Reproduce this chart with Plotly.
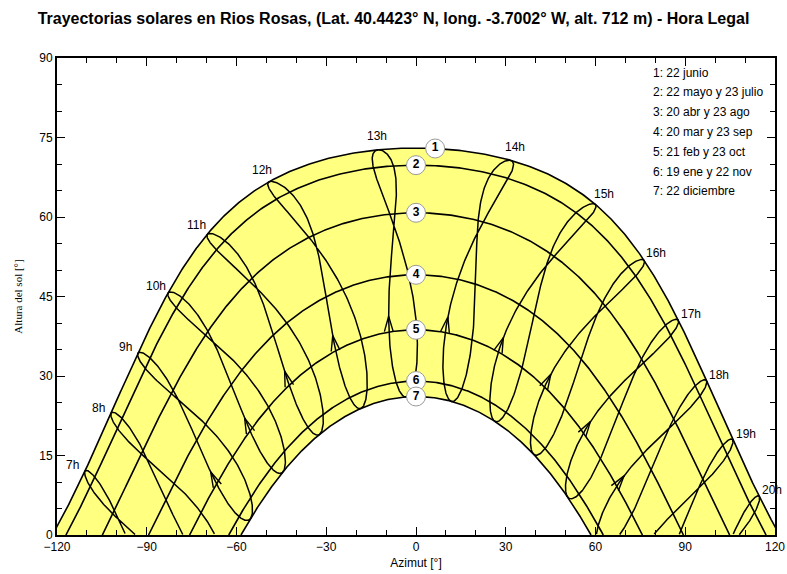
import numpy as np
import plotly.graph_objects as go

# ---------------- data ----------------
TITLE = "Trayectorias solares en Rios Rosas, (Lat. 40.4423° N, long. -3.7002° W, alt. 712 m) - Hora Legal"
latitude = 40.4423          # deg N
longitude = -3.7002         # deg (W negative)
utc_offset = 1              # legal time offset used for the hour curves (h)

path_ids = ["1", "2", "3", "4", "5", "6", "7"]
path_days = [173, 142, 110, 79, 52, 19, 356]      # day of year of each sun path
path_legend = ["1: 22 junio", "2: 22 mayo y 23 julio", "3: 20 abr y 23 ago",
               "4: 20 mar y 23 sep", "5: 21 feb y 23 oct", "6: 19 ene y 22 nov",
               "7: 22 diciembre"]
label1_azimuth = 6.4        # circle "1" sits a little to the right of south

hour_values = [7, 8, 9, 10, 11, 12, 13, 14, 15, 16, 17, 18, 19, 20]
hour_labels = [f"{h}h" for h in hour_values]
arrow_day = 60              # day where the direction arrow is drawn on each hour curve
label_day = 173             # hour labels at the 22 June point

x_ticks = [-120, -90, -60, -30, 0, 30, 60, 90, 120]
y_ticks = [0, 15, 30, 45, 60, 75, 90]

# ---------------- layout geometry (pixels) ----------------
W, H = 787, 574
L, R, T, B = 57, 775, 58, 535
XR, YR = (-120, 120), (0, 90)


def px(x):
    return L + (np.asarray(x) - XR[0]) / (XR[1] - XR[0]) * (R - L)


def py(y):
    return B - (np.asarray(y) - YR[0]) / (YR[1] - YR[0]) * (B - T)


def dx_data(dpx):
    return dpx * (XR[1] - XR[0]) / (R - L)


def dy_data(dpy):
    return -dpy * (YR[1] - YR[0]) / (B - T)


# ---------------- solar geometry ----------------
phi = np.radians(latitude)


def day_terms(day, clock_hour):
    g = 2 * np.pi / 365.0 * (np.asarray(day) - 1 + (clock_hour - 12) / 24.0)
    eot = 229.18 * (0.000075 + 0.001868 * np.cos(g) - 0.032077 * np.sin(g)
                    - 0.014615 * np.cos(2 * g) - 0.040849 * np.sin(2 * g))
    decl = (0.006918 - 0.399912 * np.cos(g) + 0.070257 * np.sin(g)
            - 0.006758 * np.cos(2 * g) + 0.000907 * np.sin(2 * g)
            - 0.002697 * np.cos(3 * g) + 0.00148 * np.sin(3 * g))
    return eot, decl


def alt_az(decl, ha_deg):
    ha = np.radians(ha_deg)
    s = np.sin(phi) * np.sin(decl) + np.cos(phi) * np.cos(decl) * np.cos(ha)
    alt = np.degrees(np.arcsin(np.clip(s, -1, 1)))
    az = np.degrees(np.arctan2(np.sin(ha),
                               np.cos(ha) * np.sin(phi) - np.tan(decl) * np.cos(phi)))
    return alt, az


def sun_at(day, clock_hour):
    eot, decl = day_terms(day, clock_hour)
    tst = clock_hour * 60 + eot + 4 * longitude - 60 * utc_offset
    ha = tst / 4.0 - 180.0
    return alt_az(decl, ha)


def sun_path(day):
    _, decl = day_terms(day, 12)
    h0 = np.degrees(np.arccos(np.clip(-np.tan(phi) * np.tan(decl), -1, 1)))
    ha = np.linspace(-h0, h0, 721)
    alt, az = alt_az(decl, ha)
    alt = np.maximum(alt, 0)
    return az, alt, decl


fig = go.Figure()

# yellow band between 22 June and 22 December
az1, alt1, _ = sun_path(path_days[0])
az7, alt7, _ = sun_path(path_days[-1])
fig.add_trace(go.Scatter(
    x=np.concatenate([az1, az7[::-1], az1[:1]]),
    y=np.concatenate([alt1, alt7[::-1], alt1[:1]]),
    mode="lines", fill="toself", fillcolor="#FFFF80",
    line=dict(width=0, color="rgba(0,0,0,0)"), hoverinfo="skip", showlegend=False))

# hour curves (analemmas)
days = np.arange(1, 366)
for h in hour_values:
    alt, az = sun_at(days, h)
    alt = np.append(alt, alt[0])
    az = np.append(az, az[0])
    xs, ys = [], []
    for a, z in zip(alt, az):
        if a > 0:
            xs.append(z); ys.append(a)
        else:
            if xs and xs[-1] is not None:
                xs.append(None); ys.append(None)
    fig.add_trace(go.Scatter(x=xs, y=ys, mode="lines",
                             line=dict(color="black", width=1.5),
                             hoverinfo="skip", showlegend=False))

# sun paths
for d in path_days:
    az, alt, _ = sun_path(d)
    fig.add_trace(go.Scatter(x=az, y=alt, mode="lines",
                             line=dict(color="black", width=1.6),
                             hoverinfo="skip", showlegend=False))

# direction arrows on hour curves
arrow_len, arrow_half = 16.0, np.radians(16)
ax_x, ax_y = [], []
for h in hour_values:
    a_tip, z_tip = sun_at(arrow_day, h)
    a_prv, z_prv = sun_at(arrow_day - 2, h)
    if a_tip <= 1.5:
        continue
    tx, ty = px(z_tip), py(a_tip)
    bx, by = px(z_prv) - tx, py(a_prv) - ty
    n = np.hypot(bx, by)
    bx, by = bx / n, by / n
    for s in (-1, 1):
        c, si = np.cos(s * arrow_half), np.sin(s * arrow_half)
        lx = (bx * c - by * si) * arrow_len
        ly = (bx * si + by * c) * arrow_len
        ax_x += [float(z_tip) + dx_data(lx), float(z_tip), None]
        ax_y += [float(a_tip) + dy_data(ly), float(a_tip), None]
fig.add_trace(go.Scatter(x=ax_x, y=ax_y, mode="lines",
                         line=dict(color="black", width=1.4),
                         hoverinfo="skip", showlegend=False))

# numbered circles on the paths
cx, cy = [], []
for i, d in enumerate(path_days):
    az, alt, _ = sun_path(d)
    xpos = label1_azimuth if i == 0 else 0.0
    cx.append(xpos)
    cy.append(float(np.interp(xpos, az, alt)))
fig.add_trace(go.Scatter(x=cx, y=cy, mode="markers+text", text=path_ids,
                         textposition="middle center",
                         textfont=dict(family="Liberation Sans", size=12, color="black", weight="bold"),
                         marker=dict(size=19, color="white", line=dict(color="#9a9a9a", width=1)),
                         hoverinfo="skip", showlegend=False))

# hour labels at the 22 June point, offset along the outward normal of path 1
annotations = []
for h, lab in zip(hour_values, hour_labels):
    a, z = sun_at(label_day, h)
    eot, decl = day_terms(label_day, h)
    ha = (h * 60 + eot + 4 * longitude - 60 * utc_offset) / 4.0 - 180.0
    a1, z1 = alt_az(decl, ha - 0.5)
    a2, z2 = alt_az(decl, ha + 0.5)
    tx, ty = px(z2) - px(z1), py(a2) - py(a1)
    n = np.hypot(tx, ty)
    nx, ny = ty / n, -tx / n
    dist = 14
    annotations.append(dict(x=float(z), y=float(a), xref="x", yref="y", text=lab,
                            showarrow=False, xshift=float(nx * dist), yshift=float(-ny * dist),
                            font=dict(family="Liberation Sans", size=12, color="black"),
                            xanchor="center", yanchor="middle"))

# legend text
for i, t in enumerate(path_legend):
    annotations.append(dict(x=(651 - L) / (R - L), y=(B - (72.5 + i * 19.8)) / (B - T),
                            xref="paper", yref="paper", text=t, showarrow=False,
                            xanchor="left", yanchor="middle",
                            font=dict(family="Liberation Sans", size=12, color="black")))

axis_common = dict(showgrid=False, zeroline=False, showline=True, linecolor="black",
                   linewidth=2, mirror="ticks", ticks="inside", tickcolor="black",
                   tickwidth=1, ticklen=8, automargin=False,
                   tickfont=dict(family="Liberation Sans", size=12, color="black"))

fig.update_layout(
    width=W, height=H, autosize=False,
    margin=dict(l=L, r=W - R, t=T, b=H - B, pad=0, autoexpand=False),
    paper_bgcolor="white", plot_bgcolor="white",
    title=dict(text=TITLE, x=0.5, xanchor="center", y=1 - 18.5 / H, yanchor="middle",
               yref="container", automargin=False,
               font=dict(family="Liberation Sans", size=16, color="black", weight="bold")),
    xaxis=dict(range=list(XR), tickvals=x_ticks, **axis_common,
               minor=dict(dtick=10, ticks="inside", ticklen=5, tickcolor="black", tickwidth=1),
               title=dict(text="Azimut [°]", standoff=5,
                          font=dict(family="Liberation Sans", size=12, color="black"))),
    yaxis=dict(range=list(YR), tickvals=y_ticks, **axis_common,
               minor=dict(dtick=5, ticks="inside", ticklen=5, tickcolor="black", tickwidth=1),
               title=dict(text="Altura del sol [°]", standoff=14,
                          font=dict(family="Liberation Serif", size=11, color="black"))),
    annotations=annotations,
    showlegend=False,
)

fig.write_html("out.html")
